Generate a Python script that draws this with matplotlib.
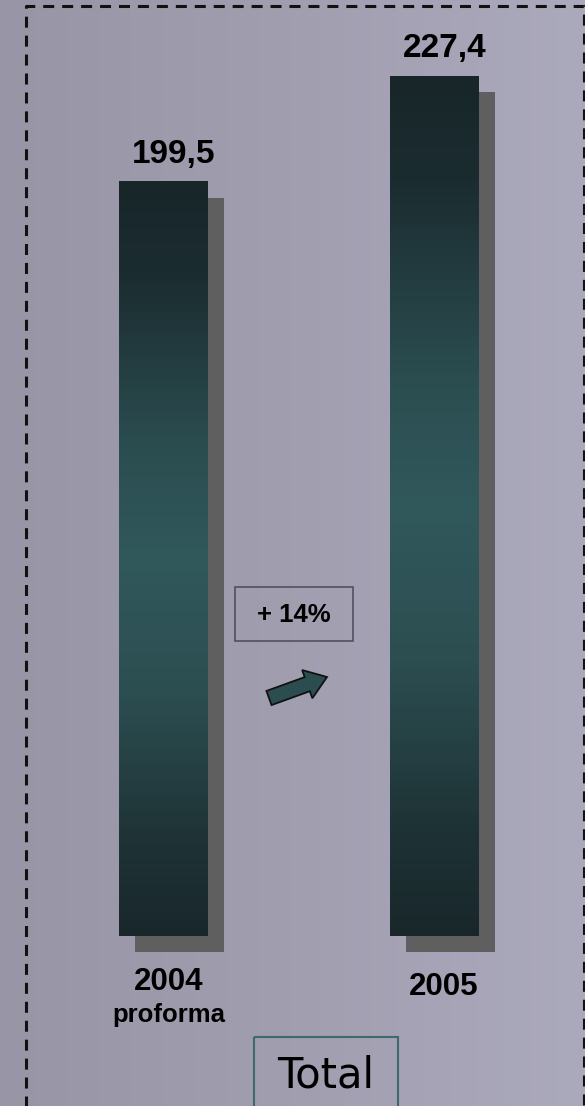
import numpy as np
import matplotlib
matplotlib.use("Agg")
import matplotlib.pyplot as plt
from matplotlib import patches, transforms
from matplotlib.colors import LinearSegmentedColormap

# data
years = ["2004", "2005"]
sublabels = ["proforma", ""]
values = [199.5, 227.4]
value_labels = ["199,5", "227,4"]
growth_label = "+ 14%"
box_title = "Total"

W, H = 585, 1106
fig = plt.figure(figsize=(W / 100, H / 100), dpi=100)

# pixel transform (origin top-left) for decorations
px = transforms.Affine2D().scale(1 / W, -1 / H).translate(0, 1) + fig.transFigure

# background gradient
bg = fig.add_axes([0, 0, 1, 1], zorder=0)
bg.axis("off")
bg_cmap = LinearSegmentedColormap.from_list("bg", ["#9896a6", "#a09eaf", "#aba9bc"])
grad = np.linspace(0, 1, 256).reshape(1, -1)
bg.imshow(grad, aspect="auto", cmap=bg_cmap, extent=[0, 1, 0, 1])
bg.set_xlim(0, 1)
bg.set_ylim(0, 1)

# main axes: full figure, data scaled so baseline sits at pixel 936
k = 860 / 227.4          # pixels per unit
base_px = 936
step = 271               # pixels between bar centres
ax = fig.add_axes([0, 0, 1, 1], zorder=1)
ax.patch.set_alpha(0)
ax.axis("off")

x = np.arange(len(values))
bw = 89 / step
sx = 16 / step
sy = 16 / k

# shadows
ax.bar(x + sx, values, width=bw, bottom=-sy, color="#5f5f5f", zorder=1)

# gradient bars
bar_cmap = LinearSegmentedColormap.from_list(
    "bar", [(0, "#182629"), (0.12, "#1b2c30"), (0.35, "#2b4d50"),
            (0.5, "#31585b"), (0.68, "#2c4e51"), (0.88, "#1e3235"), (1, "#19272b")])
vgrad = np.linspace(0, 1, 256).reshape(-1, 1)
for xi, v in zip(x, values):
    ax.imshow(vgrad, aspect="auto", cmap=bar_cmap, origin="upper",
              extent=[xi - bw / 2, xi + bw / 2, 0, v], zorder=2)
ax.set_xlim(-163.5 / step, 1 + (W - 434.5) / step)
ax.set_ylim(-(H - base_px) / k, base_px / k)

font_b = ["Liberation Sans", "DejaVu Sans"]
for xi, v, lab in zip(x, values, value_labels):
    ax.text(xi + 10 / step, v + 27 / k, lab, ha="center", va="center",
            fontsize=24, fontweight="bold", family=font_b, zorder=3)

for xi, yr, sub in zip(x, years, sublabels):
    if sub:
        ax.text(xi + 5 / step, -46 / k, yr, ha="center", va="center",
                fontsize=22.5, fontweight="bold", family=font_b)
        ax.text(xi + 5 / step, -79 / k, sub, ha="center", va="center",
                fontsize=18.5, fontweight="bold", family=font_b)
    else:
        ax.text(xi + 9 / step, -51 / k, yr, ha="center", va="center",
                fontsize=22.5, fontweight="bold", family=font_b)

# dashed frame
frame = plt.Line2D([26, 26, 584, 584], [H + 5, 6, 6, H + 5], transform=px,
                   color="#111111", lw=2.2, linestyle=(0, (3.6, 2.6)))
fig.add_artist(frame)

# growth box and arrow
fig.add_artist(patches.Rectangle((235, 587), 118, 54, transform=px,
                                 facecolor="none", edgecolor="#505060", lw=1.2))
fig.text(294 / W, 1 - 615 / H, growth_label, ha="center", va="center",
         fontsize=18.5, fontweight="bold", family=font_b)
fig.add_artist(patches.FancyArrow(269, 698, 58, -21, width=15, head_width=30,
                                  head_length=21, length_includes_head=True,
                                  transform=px, facecolor="#2c4d4f",
                                  edgecolor="#111111", lw=1.3))

# title box
fig.add_artist(patches.Rectangle((254, 1037), 144, 80, transform=px,
                                 facecolor="none", edgecolor="#3d6b6b", lw=1.5))
fig.text(326 / W, 1 - 1076 / H, box_title, ha="center", va="center",
         fontsize=30, family=["DejaVu Sans"])

fig.savefig("out.png", dpi=100)
